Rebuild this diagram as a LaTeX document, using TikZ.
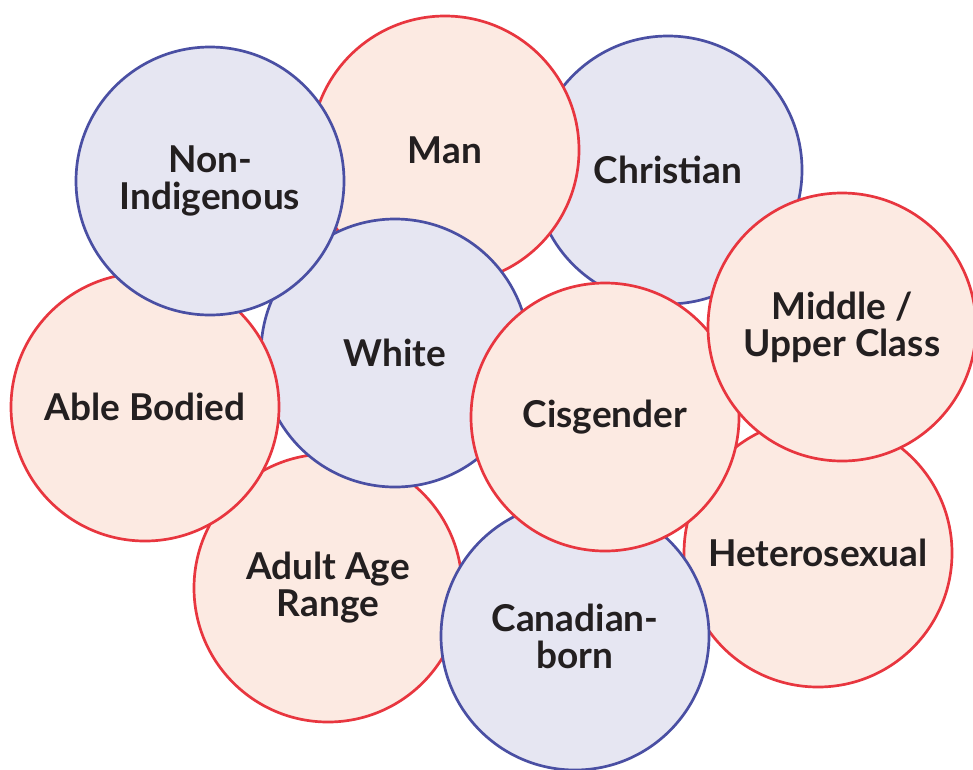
\documentclass[tikz,border=0pt]{standalone}
\usepackage{fontspec}
\setmainfont{Lato}
\usetikzlibrary{positioning}

\begin{document}
\begin{tikzpicture}[x=1pt,y=-1pt]
  % Styles
  \tikzset{
    bubble/.style={circle, minimum size=268pt, inner sep=0pt, line width=2.7pt,
      align=center, text=txtclr, font=\fontsize{37}{37}\selectfont\bfseries},
    redbub/.style={bubble, draw=redline, fill=redfill},
    bluebub/.style={bubble, draw=blueline, fill=bluefill}
  }

  % Colors
  \definecolor{redline}{HTML}{E8363F}
  \definecolor{redfill}{HTML}{FCEAE2}
  \definecolor{blueline}{HTML}{4A4FA3}
  \definecolor{bluefill}{HTML}{E6E6F2}
  \definecolor{txtclr}{HTML}{231F20}

  \useasboundingbox (0,0) rectangle (973,769);

  % Back to front
  \node[bluebub] (christian) at (668,170) {Christian};
  \node[redbub]  (man)       at (445,150) {Man};
  \node[redbub]  (adult)     at (328,588) {Adult Age\\Range};
  \node[bluebub] (white)     at (395,353) {White};
  \node[redbub]  (able)      at (145,407) {Able Bodied};
  \node[bluebub] (nonindig)  at (210,181) {Non-\\Indigenous};
  \node[redbub]  (hetero)    at (818,553) {Heterosexual};
  \node[bluebub] (canborn)   at (575,636) {Canadian-\\born};
  \node[redbub]  (cis)       at (605,417) {Cisgender};
  \node[redbub]  (midclass)  at (842,327) {Middle /\\Upper Class};
\end{tikzpicture}
\end{document}
